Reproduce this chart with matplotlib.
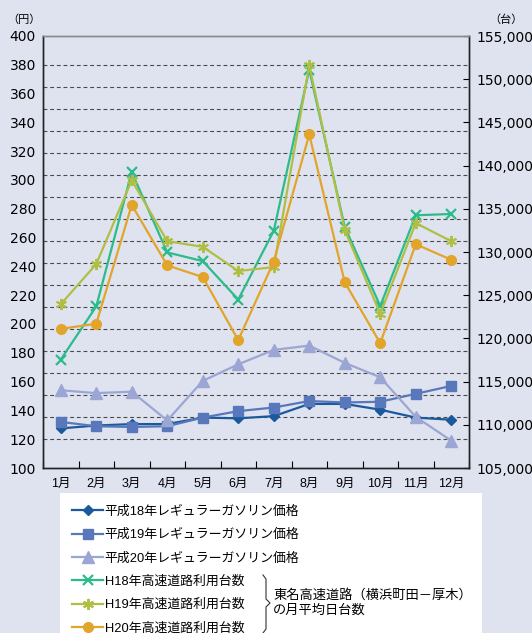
import matplotlib
matplotlib.use("Agg")
import matplotlib.pyplot as plt
import numpy as np
from matplotlib.lines import Line2D
from matplotlib.patches import Rectangle

months = ["1月", "2月", "3月", "4月", "5月", "6月", "7月", "8月", "9月", "10月", "11月", "12月"]

gas_h18 = [127.5, 129.5, 130.5, 130.5, 135.0, 134.5, 136.0, 144.5, 144.5, 140.5, 135.0, 133.5]
gas_h19 = [132.0, 129.0, 128.5, 129.0, 135.0, 139.5, 142.0, 146.5, 145.5, 146.0, 151.5, 157.0]
gas_h20 = [154.0, 152.0, 153.0, 133.0, 160.5, 172.0, 182.0, 185.0, 173.0, 163.0, 135.5, 119.0]

traffic_h18 = [117550, 123700, 139250, 129950, 128950, 124500, 132450, 151100, 132900, 123750, 134250, 134400]
traffic_h19 = [123950, 128600, 138300, 131250, 130600, 127800, 128250, 151600, 132550, 122850, 133350, 131250]
traffic_h20 = [121100, 121700, 135450, 128450, 127100, 119800, 128900, 143600, 126500, 119450, 130900, 129100]

left_ticks = list(range(100, 401, 20))
right_ticks = list(range(105000, 155001, 5000))

labels = ["平成18年レギュラーガソリン価格", "平成19年レギュラーガソリン価格", "平成20年レギュラーガソリン価格",
          "H18年高速道路利用台数", "H19年高速道路利用台数", "H20年高速道路利用台数"]
note = "東名高速道路（横浜町田－厚木）\nの月平均日台数"

FAM = ["Liberation Sans", "Noto Sans CJK JP", "DejaVu Sans"]
NUMFAM = ["DejaVu Sans"]
plt.rcParams['font.family'] = FAM

BG = "#dfe3ef"
W, H = 532, 633
fig = plt.figure(figsize=(W / 100, H / 100), dpi=100, facecolor=BG)
ax = fig.add_axes([43 / W, 1 - 468 / H, (469 - 43) / W, (468 - 36) / H])
ax.set_facecolor(BG)
ax2 = ax.twinx()

x = np.arange(len(months))

c18g, c19g, c20g = "#1a5a9c", "#5878bb", "#9ca6d4"
c18t, c19t, c20t = "#2dbb8b", "#afbf45", "#e2a52c"

# grid (dashed)
for gy in np.linspace(120, 380, 18):
    ax.axhline(gy, color="#4a4a4a", lw=0.8, ls=(0, (3.5, 2.5)), zorder=1)

lw = 1.6
h1, = ax.plot(x, gas_h18, color=c18g, lw=lw, marker="D", ms=5, zorder=3)
h2, = ax.plot(x, gas_h19, color=c19g, lw=lw, marker="s", ms=7.5, zorder=3)
h3, = ax.plot(x, gas_h20, color=c20g, lw=lw, marker="^", ms=8, zorder=3)
h4, = ax2.plot(x, traffic_h18, color=c18t, lw=lw, marker="x", ms=7, mew=1.6, zorder=3)
h5, = ax2.plot(x, traffic_h19, color=c19t, lw=lw, marker=(6, 2, 0), ms=8, mew=1.4, zorder=3)
h6, = ax2.plot(x, traffic_h20, color=c20t, lw=lw, marker="o", ms=7, zorder=3)

ax.set_xlim(-0.5, len(months) - 0.5)
ax.set_ylim(100, 400)
ax2.set_ylim(105000, 155000)

ax.set_yticks(left_ticks)
ax.set_yticklabels([str(v) for v in left_ticks], fontsize=10, family=NUMFAM)
ax.tick_params(axis="y", length=0, pad=5)
ax2.set_yticks(right_ticks)
ax2.set_yticklabels([f"{v:,}" for v in right_ticks], fontsize=10, family=NUMFAM)
ax2.tick_params(axis="y", direction="in", length=4, width=0.8, pad=5)

ax.set_xticks(x)
ax.set_xticklabels(months, fontsize=9)
ax.set_xticks(np.arange(-0.5, len(months), 1.0), minor=True)
ax.tick_params(axis="x", which="major", length=0, pad=7.5)
ax.tick_params(axis="x", which="minor", direction="in", length=5, width=0.8)

for a in (ax, ax2):
    for s in ("left", "right", "bottom"):
        a.spines[s].set_color("#222222")
        a.spines[s].set_linewidth(1.0)
    a.spines["top"].set_color("#8a8a8a")
    a.spines["top"].set_linewidth(1.0)

fig.text(24 / W, 1 - 20 / H, "（円）", fontsize=8, ha="center", va="center")
fig.text(506 / W, 1 - 20 / H, "（台）", fontsize=8, ha="center", va="center")

# legend box
fig.patches.append(Rectangle((60 / W, 0), (482 - 60) / W, 1 - 493 / H,
                             transform=fig.transFigure, facecolor="white", edgecolor="none", zorder=0))

leg = fig.legend([h1, h2, h3, h4, h5, h6], labels, loc="upper left",
                 bbox_to_anchor=(62 / W, 1 - 495 / H), frameon=False, fontsize=9.3,
                 handlelength=2.35, handletextpad=0.15, labelspacing=0.86, borderpad=0.3)

# brace
bx = [263, 266, 266, 270, 266, 266, 263]
by = [575, 579, 599, 603, 607, 629, 633]
fig.lines.append(Line2D([b / W for b in bx], [1 - b / H for b in by], transform=fig.transFigure,
                        color="#333333", lw=0.8))
fig.text(273 / W, 1 - 603 / H, note, fontsize=9.5, ha="left", va="center", linespacing=1.25)

fig.savefig("out.png", dpi=100, facecolor=BG)
